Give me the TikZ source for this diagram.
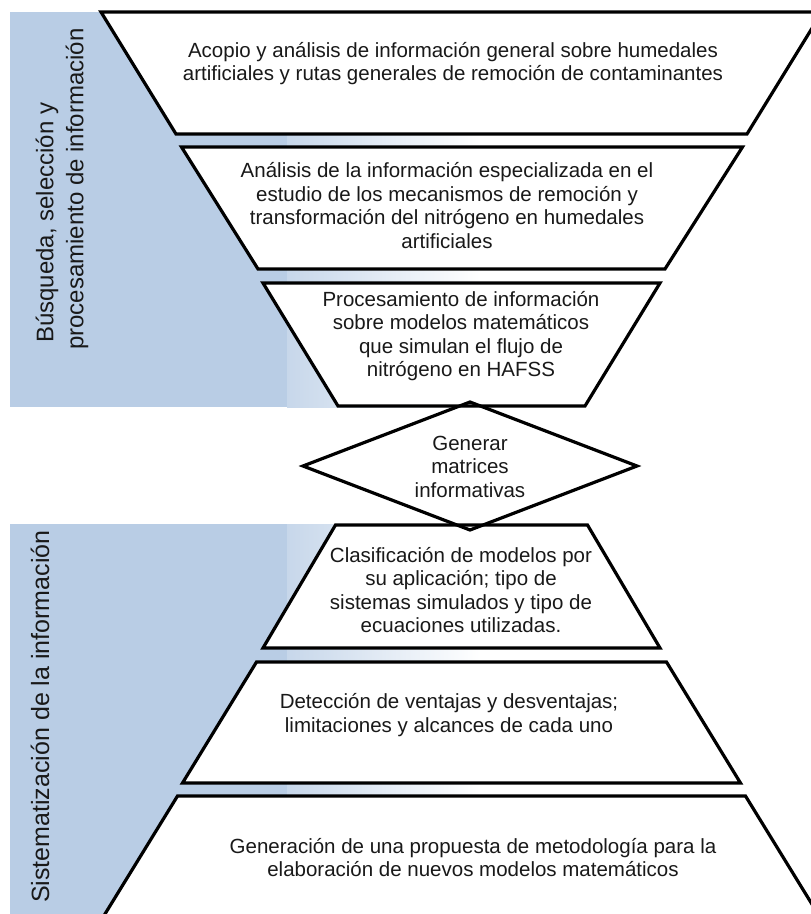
\documentclass[tikz,border=0pt]{standalone}
\usepackage{fontspec}
\setmainfont{Liberation Sans}
\definecolor{panelblue}{RGB}{185,205,229}
\definecolor{inkc}{RGB}{25,25,25}
\begin{document}
\begin{tikzpicture}[x=1pt,y=-1pt,
  box/.style={draw=black,line width=3.2pt,fill=white,line join=miter},
  dia/.style={draw=black,line width=3.2pt,line join=miter},
  txt/.style={align=center,inner sep=0pt,text=inkc,font=\fontsize{20.5}{23.5}\selectfont},
  side/.style={rotate=90,anchor=west,inner sep=0pt,text=inkc,font=\fontsize{24}{28}\selectfont}]
\useasboundingbox (0,0) rectangle (811,914);
\fill[white] (0,0) rectangle (811,914);
\clip (0,0) rectangle (811,914);
% side panels
\fill[panelblue] (10,12) rectangle (287,407);
\shade[left color=panelblue!80!white, right color=white] (287,12) rectangle (480,407);
\fill[panelblue] (10,524) rectangle (287,914);
\shade[left color=panelblue!80!white, right color=white] (287,524) rectangle (480,914);
% funnel (top)
\draw[box] (101,12) -- (822,12) -- (747,134) -- (176,134) -- cycle;
\draw[box] (181.5,147) -- (742.5,147) -- (665,269) -- (258,269) -- cycle;
\draw[box] (263,283) -- (660,283) -- (585,406) -- (338,406) -- cycle;
% pyramid (bottom)
\draw[box] (335.5,525) -- (587.5,525) -- (660,648) -- (263,648) -- cycle;
\draw[box] (256.5,662) -- (666.5,662) -- (740.5,783) -- (182.5,783) -- cycle;
\draw[box] (177.5,796) -- (745.5,796) -- (834,940) -- (89,940) -- cycle;
% diamond
\draw[dia] (470,402) -- (637,466) -- (470,530) -- (303,466) -- cycle;
% texts
\node[txt] (t1) at (453,63.5) {Acopio y análisis de información general sobre humedales\\artificiales y rutas generales de remoción de contaminantes};
\node[txt] (t2) at (447,205.5) {Análisis de la información especializada en el\\estudio de los mecanismos de remoción y\\transformación del nitrógeno en humedales\\artificiales};
\node[txt] (t3) at (461,336) {Procesamiento de información\\sobre modelos matemáticos\\que simulan el flujo de\\nitrógeno en HAFSS};
\node[txt] (d) at (470,466.5) {Generar\\matrices\\informativas};
\node[txt] (b1) at (461,590) {Clasificación de modelos por\\su aplicación; tipo de\\sistemas simulados y tipo de\\ecuaciones utilizadas.};
\node[txt] (b2) at (449,715) {Detección de ventajas y desventajas;\\limitaciones y alcances de cada uno};
\node[txt] (b3) at (473,857.5) {Generación de una propuesta de metodología para la\\elaboración de nuevos modelos matemáticos};
% side labels
\node[side] (s1) at (47,343) {Búsqueda, selección y};
\node[side] (s2) at (77,350) {procesamiento de información};
\node[side,font=\fontsize{25}{30}\selectfont] (s3) at (40,903) {Sistematización de la información};
\end{tikzpicture}
\end{document}
